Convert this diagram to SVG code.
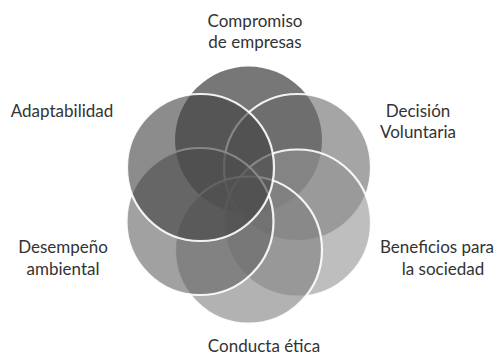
<svg xmlns="http://www.w3.org/2000/svg" width="495" height="358" viewBox="0 0 495 358">
<style>
.c{fill-opacity:0.6;stroke:#ffffff;stroke-width:2.2;stroke-opacity:0.9}
.t{font-family:"Lato","Liberation Sans",sans-serif;font-size:17px;fill:#333333;text-anchor:middle}
</style>
<rect width="495" height="358" fill="#ffffff"/>
<g id="n1"><circle cx="248.5" cy="140" r="73.5" fill="#1c1c1c" fill-opacity="0.6"/></g>
<g id="n2"><circle class="c" cx="297.5" cy="167.5" r="73.5" fill="#696969"/></g>
<g id="n3"><circle class="c" cx="297.5" cy="223" r="73.5" fill="#939393"/></g>
<g id="n4"><circle class="c" cx="248.5" cy="250" r="73.5" fill="#7f7f7f"/></g>
<g id="n5"><circle class="c" cx="200" cy="221.5" r="73.5" fill="#626262"/></g>
<g id="n6"><circle class="c" cx="200.5" cy="167.5" r="73.5" fill="#3f3f3f"/></g>
<g id="labels">
<text class="t" x="255" y="27">Compromiso</text>
<text class="t" x="255" y="48">de empresas</text>
<text class="t" x="418" y="117">Decisión</text>
<text class="t" x="418" y="138">Voluntaria</text>
<text class="t" x="437" y="253">Beneficios para</text>
<text class="t" x="443" y="275">la sociedad</text>
<text class="t" x="264" y="352">Conducta ética</text>
<text class="t" x="63" y="253">Desempeño</text>
<text class="t" x="63" y="275">ambiental</text>
<text class="t" x="62" y="117">Adaptabilidad</text>
</g>
<g id="connectors"></g>
</svg>
